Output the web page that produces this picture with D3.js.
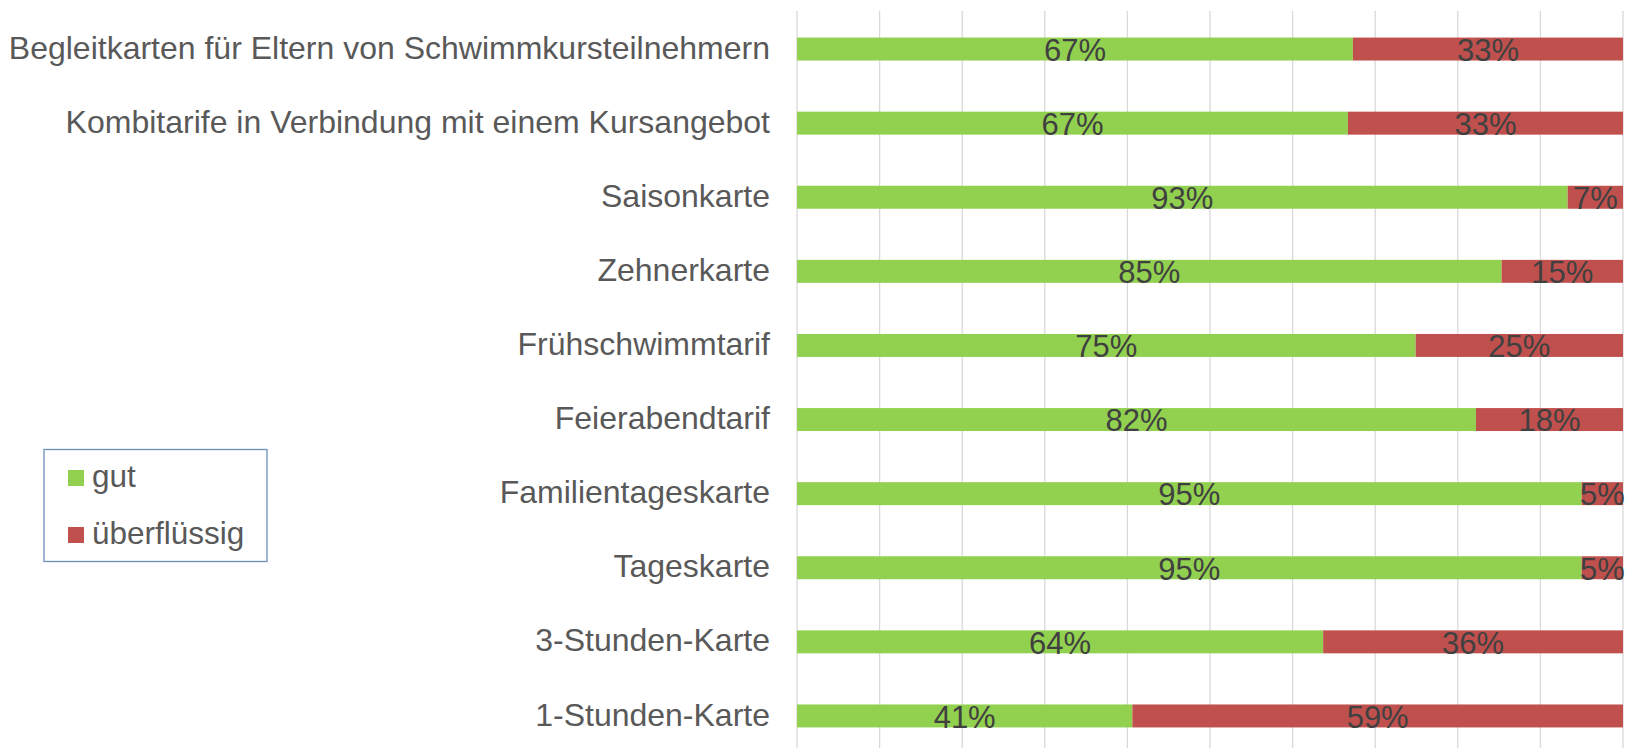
<!DOCTYPE html>
<html>
<head>
<meta charset="utf-8">
<script src="https://cdn.jsdelivr.net/npm/d3@7"></script>
<style>
  body { margin: 0; background: #fff; }
  text { font-family: "Liberation Sans", Arial, sans-serif; }
</style>
</head>
<body>
<div id="chart"></div>
<script>
// Tarif-Bewertung, gestapelte Balken (100%)
let svgWidth = 1632;
let svgHeight = 748;

let categories = [
  "Begleitkarten für Eltern von Schwimmkursteilnehmern",
  "Kombitarife in Verbindung mit einem Kursangebot",
  "Saisonkarte",
  "Zehnerkarte",
  "Frühschwimmtarif",
  "Feierabendtarif",
  "Familientageskarte",
  "Tageskarte",
  "3-Stunden-Karte",
  "1-Stunden-Karte"
];
let gutValues = [0.673, 0.667, 0.933, 0.853, 0.749, 0.822, 0.95, 0.95, 0.637, 0.406];
let ueberValues = [0.327, 0.333, 0.067, 0.147, 0.251, 0.178, 0.05, 0.05, 0.363, 0.594];
let seriesNames = ["gut", "überflüssig"];
let seriesColors = ["#92D050", "#C0504D"];
let gridTicks = d3.range(0, 1.0001, 0.1);

let margin = { top: 11, right: 9, bottom: 0, left: 797 };
let width = svgWidth - margin.left - margin.right;
let height = svgHeight - margin.top - margin.bottom;

let svg = d3.select("#chart")
  .append("svg")
  .attr("width", svgWidth)
  .attr("height", svgHeight);

let chartGroup = svg.append("g")
  .attr("transform", `translate(${margin.left}, ${margin.top})`);

let xScale = d3.scaleLinear().domain([0, 1]).range([0, width]);
let yScale = d3.scaleBand()
  .domain(categories)
  .range([1, 742])
  .paddingInner(0.69)
  .paddingOuter(0.345);

// gridlines
chartGroup.append("g")
  .selectAll("line")
  .data(gridTicks)
  .enter()
  .append("line")
  .attr("x1", d => xScale(d))
  .attr("x2", d => xScale(d))
  .attr("y1", 0)
  .attr("y2", height)
  .attr("stroke", "#D9D9D9")
  .attr("stroke-width", 1.3);

// stacked data
let rows = categories.map((c, i) => ({ cat: c, gut: gutValues[i], ueber: ueberValues[i] }));
let stack = d3.stack().keys(["gut", "ueber"]);
let stacked = stack(rows);

let layers = chartGroup.selectAll(".layer")
  .data(stacked)
  .enter()
  .append("g")
  .attr("class", "layer")
  .attr("fill", (d, i) => seriesColors[i]);

layers.selectAll("rect")
  .data(d => d)
  .enter()
  .append("rect")
  .attr("x", d => xScale(d[0]))
  .attr("width", d => xScale(d[1]) - xScale(d[0]))
  .attr("y", d => yScale(d.data.cat))
  .attr("height", yScale.bandwidth());

// data labels
layers.selectAll("text")
  .data(d => d)
  .enter()
  .append("text")
  .attr("x", d => (xScale(d[0]) + xScale(d[1])) / 2)
  .attr("y", d => yScale(d.data.cat) + yScale.bandwidth() / 2)
  .attr("dy", "0.38em")
  .attr("text-anchor", "middle")
  .attr("font-size", "31px")
  .attr("fill", "#404040")
  .text(d => Math.round((d[1] - d[0]) * 100) + "%");

// category labels
let yAxis = d3.axisLeft(yScale).tickSize(0).tickPadding(27);
let yAxisG = chartGroup.append("g").call(yAxis);
yAxisG.select(".domain").remove();
yAxisG.selectAll("text")
  .attr("font-family", "Liberation Sans, Arial, sans-serif")
  .attr("font-size", "32px")
  .attr("fill", "#595959")
  .attr("dy", "0.3em");

// legend
let legend = svg.append("g").attr("transform", "translate(44, 449.5)");
legend.append("rect")
  .attr("width", 223)
  .attr("height", 112)
  .attr("fill", "#fff")
  .attr("stroke", "#6E8EBA")
  .attr("stroke-width", 1.3);

let legendItems = legend.selectAll(".item")
  .data(seriesNames)
  .enter()
  .append("g")
  .attr("class", "item")
  .attr("transform", (d, i) => `translate(24, ${20.5 + i * 57})`);

legendItems.append("rect")
  .attr("width", 16)
  .attr("height", 16)
  .attr("fill", (d, i) => seriesColors[i]);

legendItems.append("text")
  .attr("x", 24)
  .attr("y", 17)
  .attr("font-size", "31.5px")
  .attr("fill", "#595959")
  .text(d => d);
</script>
</body>
</html>
